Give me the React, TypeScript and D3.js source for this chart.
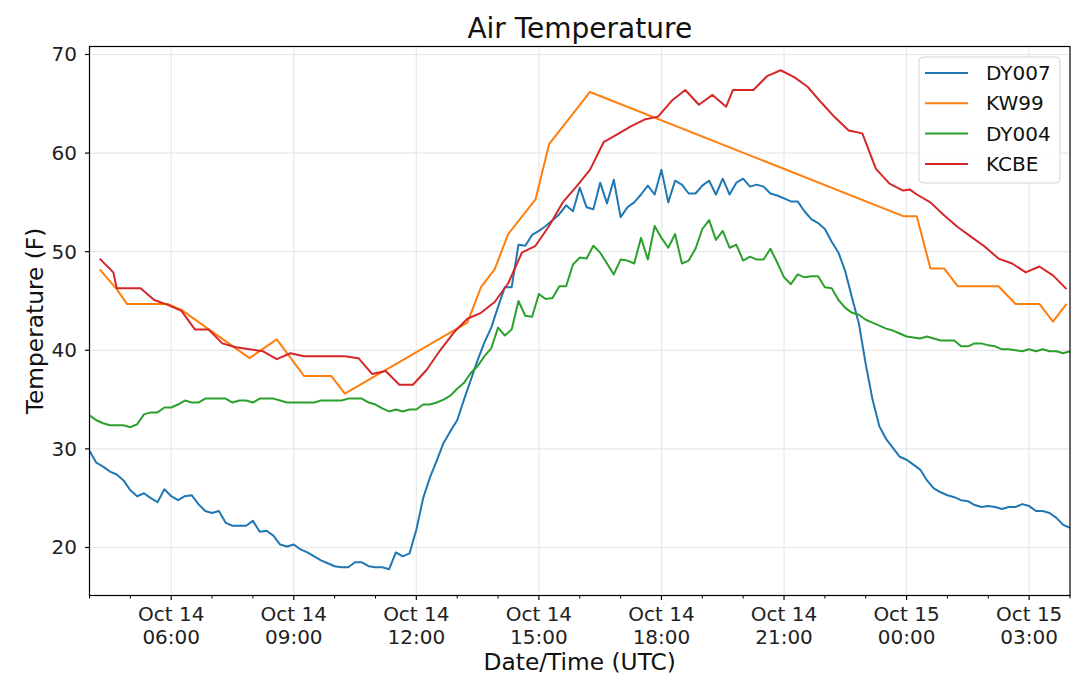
import * as d3 from "d3"

const seriesNames = ["DY007", "KW99", "DY004", "KCBE"]
const seriesColors = ["#1f77b4", "#ff7f0e", "#2ca02c", "#d62728"]

// DY007 and DY004 report every 10 minutes from 04:00 UTC
const stationStart = "2019-10-14T04:00"
const stationStepMin = 10

const dy007Values = [
	29.8, 28.6, 28.2, 27.7, 27.4, 26.8, 25.8, 25.2, 25.5, 25.0,
	24.6, 25.9, 25.2, 24.8, 25.2, 25.3, 24.4, 23.7, 23.5, 23.7,
	22.5, 22.2, 22.2, 22.2, 22.7, 21.6, 21.7, 21.2, 20.3, 20.1,
	20.3, 19.8, 19.5, 19.1, 18.7, 18.4, 18.1, 18.0, 18.0, 18.5,
	18.5, 18.1, 18.0, 18.0, 17.8, 19.5, 19.1, 19.4, 21.8, 25.0,
	27.1, 28.8, 30.6, 31.8, 32.9, 35.0, 37.0, 39.0, 40.8, 42.3,
	44.4, 46.4, 46.4, 50.7, 50.6, 51.7, 52.1, 52.6, 53.2, 53.8,
	54.7, 54.1, 56.5, 54.5, 54.3, 57.0, 54.9, 57.3, 53.5, 54.5,
	55.0, 55.8, 56.7, 55.8, 58.3, 55.0, 57.2, 56.8, 55.9, 55.9,
	56.7, 57.2, 55.8, 57.4, 55.8, 57.0, 57.4, 56.6, 56.8, 56.6,
	55.9, 55.7, 55.4, 55.1, 55.1, 54.1, 53.3, 52.9, 52.3, 51.0,
	49.9, 48.0, 45.3, 42.7, 38.6, 35.0, 32.3, 31.0, 30.1, 29.2,
	28.9, 28.4, 27.9, 26.8, 26.0, 25.6, 25.3, 25.1, 24.8, 24.7,
	24.3, 24.1, 24.2, 24.1, 23.9, 24.1, 24.1, 24.4, 24.2, 23.7,
	23.7, 23.5, 23.0, 22.3, 22.0,
]

const dy004Values = [
	33.4, 32.9, 32.6, 32.4, 32.4, 32.4, 32.2, 32.5, 33.5, 33.7,
	33.7, 34.2, 34.2, 34.5, 34.9, 34.7, 34.7, 35.1, 35.1, 35.1,
	35.1, 34.7, 34.9, 34.9, 34.7, 35.1, 35.1, 35.1, 34.9, 34.7,
	34.7, 34.7, 34.7, 34.7, 34.9, 34.9, 34.9, 34.9, 35.1, 35.1,
	35.1, 34.7, 34.5, 34.1, 33.8, 34.0, 33.8, 34.0, 34.0, 34.5,
	34.5, 34.7, 35.0, 35.4, 36.1, 36.7, 37.7, 38.4, 39.4, 40.2,
	42.3, 41.5, 42.1, 45.0, 43.5, 43.4, 45.7, 45.2, 45.3, 46.5,
	46.5, 48.7, 49.4, 49.3, 50.6, 49.9, 48.8, 47.7, 49.2, 49.1,
	48.8, 51.4, 49.2, 52.6, 51.4, 50.4, 51.8, 48.8, 49.1, 50.3,
	52.3, 53.2, 51.2, 52.1, 50.4, 50.7, 49.1, 49.5, 49.2, 49.2,
	50.3, 48.9, 47.4, 46.7, 47.7, 47.4, 47.5, 47.5, 46.4, 46.3,
	45.1, 44.3, 43.8, 43.6, 43.1, 42.8, 42.5, 42.2, 42.0, 41.7,
	41.4, 41.3, 41.2, 41.4, 41.2, 41.0, 41.0, 41.0, 40.4, 40.4,
	40.7, 40.7, 40.5, 40.4, 40.1, 40.1, 40.0, 39.9, 40.1, 39.9,
	40.1, 39.9, 39.9, 39.7, 39.9,
]

const kw99Times = [
	"2019-10-14T04:15", "2019-10-14T04:40", "2019-10-14T04:55", "2019-10-14T05:55",
	"2019-10-14T06:15", "2019-10-14T07:55", "2019-10-14T08:35", "2019-10-14T09:15",
	"2019-10-14T09:55", "2019-10-14T10:15", "2019-10-14T13:15", "2019-10-14T13:35",
	"2019-10-14T13:55", "2019-10-14T14:15", "2019-10-14T14:55", "2019-10-14T15:15",
	"2019-10-14T16:15", "2019-10-14T23:55", "2019-10-15T00:15", "2019-10-15T00:35",
	"2019-10-15T00:55", "2019-10-15T01:15", "2019-10-15T02:15", "2019-10-15T02:40",
	"2019-10-15T03:15", "2019-10-15T03:35", "2019-10-15T03:55",
]
const kw99Values = [
	48.2, 46.2, 44.7, 44.7, 44.1, 39.2, 41.1, 37.4, 37.4, 35.6,
	42.8, 46.4, 48.2, 51.8, 55.3, 60.9, 66.2, 53.6, 53.6, 48.3,
	48.3, 46.5, 46.5, 44.7, 44.7, 42.9, 44.7,
]

const kcbeTimes = [
	"2019-10-14T04:15", "2019-10-14T04:35", "2019-10-14T04:40", "2019-10-14T04:55",
	"2019-10-14T05:15", "2019-10-14T05:35", "2019-10-14T05:55", "2019-10-14T06:15",
	"2019-10-14T06:35", "2019-10-14T06:55", "2019-10-14T07:15", "2019-10-14T07:35",
	"2019-10-14T07:55", "2019-10-14T08:15", "2019-10-14T08:35", "2019-10-14T08:55",
	"2019-10-14T09:15", "2019-10-14T09:35", "2019-10-14T09:55", "2019-10-14T10:15",
	"2019-10-14T10:35", "2019-10-14T10:55", "2019-10-14T11:15", "2019-10-14T11:35",
	"2019-10-14T11:55", "2019-10-14T12:15", "2019-10-14T12:35", "2019-10-14T12:55",
	"2019-10-14T13:15", "2019-10-14T13:35", "2019-10-14T13:55", "2019-10-14T14:15",
	"2019-10-14T14:35", "2019-10-14T14:55", "2019-10-14T15:15", "2019-10-14T15:35",
	"2019-10-14T15:55", "2019-10-14T16:15", "2019-10-14T16:35", "2019-10-14T16:55",
	"2019-10-14T17:15", "2019-10-14T17:35", "2019-10-14T17:55", "2019-10-14T18:15",
	"2019-10-14T18:35", "2019-10-14T18:55", "2019-10-14T19:15", "2019-10-14T19:35",
	"2019-10-14T19:45", "2019-10-14T19:55", "2019-10-14T20:15", "2019-10-14T20:35",
	"2019-10-14T20:55", "2019-10-14T21:15", "2019-10-14T21:35", "2019-10-14T21:55",
	"2019-10-14T22:15", "2019-10-14T22:35", "2019-10-14T22:55", "2019-10-14T23:15",
	"2019-10-14T23:35", "2019-10-14T23:55", "2019-10-15T00:05", "2019-10-15T00:15",
	"2019-10-15T00:35", "2019-10-15T00:55", "2019-10-15T01:15", "2019-10-15T01:35",
	"2019-10-15T01:55", "2019-10-15T02:15", "2019-10-15T02:35", "2019-10-15T02:55",
	"2019-10-15T03:15", "2019-10-15T03:35", "2019-10-15T03:55",
]
const kcbeValues = [
	49.3, 47.9, 46.3, 46.3, 46.3, 45.1, 44.6, 44.0, 42.1, 42.1,
	40.7, 40.3, 40.1, 39.9, 39.1, 39.7, 39.4, 39.4, 39.4, 39.4,
	39.2, 37.6, 37.9, 36.5, 36.5, 38.0, 40.0, 41.8, 43.2, 43.8,
	44.9, 46.8, 49.9, 50.6, 52.6, 55.0, 56.6, 58.3, 61.1, 61.9,
	62.7, 63.4, 63.7, 65.3, 66.4, 64.9, 65.9, 64.7, 66.4, 66.4,
	66.4, 67.8, 68.4, 67.7, 66.7, 65.1, 63.6, 62.3, 62.0, 58.4,
	56.9, 56.2, 56.3, 55.8, 55.0, 53.7, 52.5, 51.5, 50.5, 49.3,
	48.8, 47.9, 48.5, 47.6, 46.2,
]

const xTickTimes = [
	"2019-10-14T06:00", "2019-10-14T09:00", "2019-10-14T12:00", "2019-10-14T15:00",
	"2019-10-14T18:00", "2019-10-14T21:00", "2019-10-15T00:00", "2019-10-15T03:00",
]
const yTicks = [20, 30, 40, 50, 60, 70]

const W = 1080
const H = 683
const left = 89.5
const right = 1070
const top = 46.5
const bottom = 595.5
const font = "DejaVu Sans, sans-serif"

const parse = d3.utcParse("%Y-%m-%dT%H:%M")

type Pt = { t: Date; v: number }

const App = () => {
	const t0 = parse(stationStart) as Date
	const stationTime = (i: number) => d3.utcMinute.offset(t0, i * stationStepMin)

	const series: Pt[][] = [
		dy007Values.map((v, i) => ({ t: stationTime(i), v })),
		kw99Values.map((v, i) => ({ t: parse(kw99Times[i]) as Date, v })),
		dy004Values.map((v, i) => ({ t: stationTime(i), v })),
		kcbeValues.map((v, i) => ({ t: parse(kcbeTimes[i]) as Date, v })),
	]

	const x = d3
		.scaleUtc()
		.domain([t0, d3.utcHour.offset(t0, 24)])
		.range([left, right])
	const y = d3.scaleLinear().domain([15.13, 70.81]).range([bottom, top])

	const line = d3
		.line<Pt>()
		.x((d) => x(d.t))
		.y((d) => y(d.v))

	const majorTicks = xTickTimes.map((s) => parse(s) as Date)
	const minorTicks = d3.utcHour
		.range(x.domain()[0], d3.utcHour.offset(x.domain()[1], 1))
		.filter((d) => d.getUTCHours() % 3 !== 0)

	const fmtDay = d3.utcFormat("%b %d")
	const fmtHour = d3.utcFormat("%H:%M")

	return (
		<svg
			width={W}
			height={H}
			style={{ position: "absolute", left: 0, top: 0, background: "#fff" }}
			fontFamily={font}
		>
			<rect width={W} height={H} fill="#fff" />
			<defs>
				<clipPath id="plot">
					<rect x={left} y={top} width={right - left} height={bottom - top} />
				</clipPath>
			</defs>

			{/* grid */}
			<g stroke="#e8e8e8" strokeWidth={1.2}>
				{majorTicks.map((d, i) => (
					<line key={"gx" + i} x1={x(d)} x2={x(d)} y1={top} y2={bottom} />
				))}
				{yTicks.map((v) => (
					<line key={"gy" + v} x1={left} x2={right} y1={y(v)} y2={y(v)} />
				))}
			</g>

			{/* series */}
			<g clipPath="url(#plot)" fill="none" strokeWidth={2} strokeLinejoin="round">
				{series.map((s, i) => (
					<path key={seriesNames[i]} d={line(s) || ""} stroke={seriesColors[i]} />
				))}
			</g>

			{/* spines */}
			<rect
				x={left}
				y={top}
				width={right - left}
				height={bottom - top}
				fill="none"
				stroke="#000"
				strokeWidth={1.2}
			/>

			{/* y axis */}
			{yTicks.map((v) => (
				<g key={"yt" + v}>
					<line x1={left - 4.5} x2={left} y1={y(v)} y2={y(v)} stroke="#000" strokeWidth={1.2} />
					<text x={77} y={y(v) + 7} fontSize={20} textAnchor="end" fill="#222">
						{v}
					</text>
				</g>
			))}

			{/* x axis */}
			{minorTicks.map((d, i) => (
				<line key={"mx" + i} x1={x(d)} x2={x(d)} y1={bottom} y2={bottom + 3} stroke="#000" strokeWidth={1} />
			))}
			{majorTicks.map((d, i) => (
				<g key={"xt" + i}>
					<line x1={x(d)} x2={x(d)} y1={bottom} y2={bottom + 4.5} stroke="#000" strokeWidth={1.2} />
					<text x={x(d)} y={621} fontSize={20} textAnchor="middle" fill="#222">
						{fmtDay(d)}
					</text>
					<text x={x(d)} y={643.5} fontSize={20} textAnchor="middle" fill="#222">
						{fmtHour(d)}
					</text>
				</g>
			))}

			{/* labels */}
			<text x={(left + right) / 2} y={38.3} fontSize={28} textAnchor="middle" fill="#111">
				Air Temperature
			</text>
			<text x={(left + right) / 2} y={670} fontSize={23.3} textAnchor="middle" fill="#111">
				Date/Time (UTC)
			</text>
			<text
				transform={`translate(43,${(top + bottom) / 2}) rotate(-90)`}
				fontSize={23.3}
				textAnchor="middle"
				fill="#111"
			>
				Temperature (F)
			</text>

			{/* legend */}
			<g>
				<rect x={919} y={57} width={141} height={126} rx={4} fill="#fff" fillOpacity={0.85} stroke="#d5d5d5" />
				{seriesNames.map((n, i) => (
					<g key={"lg" + n} transform={`translate(0,${73 + i * 30.3})`}>
						<line x1={925} x2={968} y1={0} y2={0} stroke={seriesColors[i]} strokeWidth={2} />
						<text x={986} y={7} fontSize={20} fill="#111">
							{n}
						</text>
					</g>
				))}
			</g>
		</svg>
	)
}

export default App
